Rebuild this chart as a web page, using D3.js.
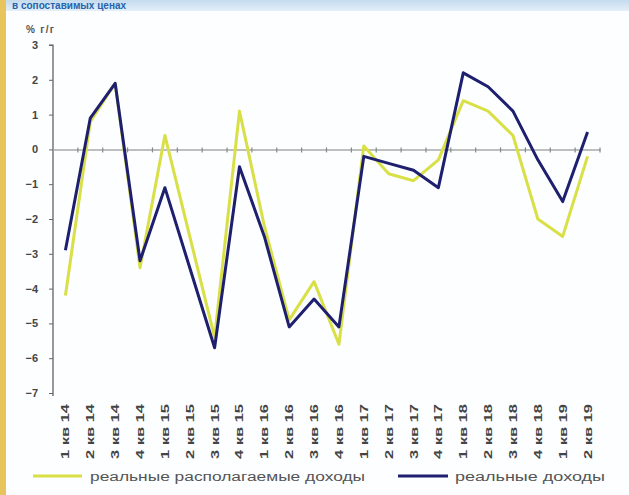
<!DOCTYPE html>
<html>
<head>
<meta charset="utf-8">
<script src="https://cdn.jsdelivr.net/npm/d3@7/dist/d3.min.js"></script>
<style>
  html, body { margin: 0; padding: 0; background: #fff; }
  svg { display: block; }
</style>
</head>
<body>
<script>
// Quarterly growth, % year over year
const categories = [
  "1 кв 14", "2 кв 14", "3 кв 14", "4 кв 14",
  "1 кв 15", "2 кв 15", "3 кв 15", "4 кв 15",
  "1 кв 16", "2 кв 16", "3 кв 16", "4 кв 16",
  "1 кв 17", "2 кв 17", "3 кв 17", "4 кв 17",
  "1 кв 18", "2 кв 18", "3 кв 18", "4 кв 18",
  "1 кв 19", "2 кв 19"
];
const disposableIncome = [
  -4.2, 0.8, 1.9, -3.4, 0.4, -2.5, -5.4, 1.1, -2.2, -4.9, -3.8, -5.6,
  0.1, -0.7, -0.9, -0.3, 1.4, 1.1, 0.4, -2.0, -2.5, -0.2
];
const realIncome = [
  -2.9, 0.9, 1.9, -3.2, -1.1, -3.4, -5.7, -0.5, -2.5, -5.1, -4.3, -5.1,
  -0.2, -0.4, -0.6, -1.1, 2.2, 1.8, 1.1, -0.3, -1.5, 0.5
];
const yTicks = [3, 2, 1, 0, -1, -2, -3, -4, -5, -6, -7];
const seriesNames = ["реальные располагаемые доходы", "реальные доходы"];
const title = "в сопоставимых ценах";
const unitLabel = "% г/г";

const W = 629, H = 495;
const svg = d3.select("body").append("svg").attr("width", W).attr("height", H);
const font = "Liberation Sans, Arial, sans-serif";

// panel background, header band and side stripe
const defs = svg.append("defs");
const hdr = defs.append("linearGradient").attr("id", "hdr").attr("x1", 0).attr("y1", 0).attr("x2", 0).attr("y2", 1);
hdr.append("stop").attr("offset", "0%").attr("stop-color", "#c4dbee");
hdr.append("stop").attr("offset", "100%").attr("stop-color", "#e4eff8");
svg.append("rect").attr("width", W).attr("height", H).attr("fill", "#fcfeff");
svg.append("rect").attr("x", 0).attr("y", 0).attr("width", W).attr("height", 11).attr("fill", "url(#hdr)");
svg.append("text").attr("x", 12).attr("y", 9)
  .attr("font-family", font).attr("font-weight", "bold")
  .attr("font-size", 10).attr("fill", "#2563ad")
  .text(title);
svg.append("rect").attr("x", 0).attr("y", 0).attr("width", 6).attr("height", H).attr("fill", "#e7c45c");

const x = d3.scaleBand().domain(categories).range([53, 600]).padding(0);
const y = d3.scaleLinear().domain([-7, 3]).range([393, 45]);

// y axis
const yAxis = svg.append("g").attr("transform", "translate(53,0)")
  .call(d3.axisLeft(y).tickValues(yTicks).tickSize(4).tickPadding(11));
yAxis.select(".domain").attr("stroke", "#555").attr("stroke-width", 1.2)
  .attr("d", `M-4,${y(3)}H0V${y(-7) + 3}`);
yAxis.selectAll(".tick line").attr("stroke", "#666");
yAxis.selectAll(".tick text").attr("font-family", font).attr("font-size", 11)
  .attr("fill", "#444").attr("font-weight", "bold");

svg.append("text").attr("x", 26).attr("y", 33).attr("font-family", font)
  .attr("font-size", 10).attr("font-weight", "bold").attr("fill", "#555")
  .attr("textLength", 28).attr("lengthAdjust", "spacing")
  .text(unitLabel);

// zero line with category ticks
const xAxis = svg.append("g").attr("transform", `translate(0,${y(0)})`)
  .call(d3.axisBottom(x).tickSize(0).tickFormat(""));
xAxis.select(".domain").attr("stroke", "#a8a8a8").attr("stroke-width", 1.5);
xAxis.selectAll(".tick").remove();
const bounds = categories.slice(1).map(c => x(c)).concat([x.range()[1]]);
svg.append("g").selectAll("line").data(bounds).join("line")
  .attr("x1", d => d).attr("x2", d => d)
  .attr("y1", y(0) - 2).attr("y2", y(0) + 3)
  .attr("stroke", "#888").attr("stroke-width", 1.2);

// category labels, rotated
svg.append("g").selectAll("text").data(categories).join("text")
  .attr("transform", d => `translate(${x(d) + x.bandwidth() / 2 + 4},404) rotate(-90)`)
  .attr("text-anchor", "end")
  .attr("font-family", font).attr("font-size", 11).attr("font-weight", "bold")
  .attr("fill", "#444")
  .attr("textLength", 55).attr("lengthAdjust", "spacingAndGlyphs")
  .text(d => d);

// lines
const line = d3.line()
  .x((d, i) => x(categories[i]) + x.bandwidth() / 2)
  .y(d => y(d));
svg.append("path").datum(disposableIncome).attr("d", line)
  .attr("fill", "none").attr("stroke", "#d9e046").attr("stroke-width", 3)
  .attr("stroke-linejoin", "round");
svg.append("path").datum(realIncome).attr("d", line)
  .attr("fill", "none").attr("stroke", "#1e1f6e").attr("stroke-width", 3)
  .attr("stroke-linejoin", "round");

// legend
const legend = [
  { name: seriesNames[0], color: "#d9e046", x1: 33, x2: 82, tx: 90, tw: 275 },
  { name: seriesNames[1], color: "#1e1f6e", x1: 398, x2: 448, tx: 455, tw: 150 }
];
const lg = svg.append("g");
legend.forEach(l => {
  lg.append("line").attr("x1", l.x1).attr("x2", l.x2).attr("y1", 476).attr("y2", 476)
    .attr("stroke", l.color).attr("stroke-width", 3);
  lg.append("text").attr("x", l.tx).attr("y", 481)
    .attr("font-family", font).attr("font-size", 12).attr("fill", "#555")
    .attr("textLength", l.tw).attr("lengthAdjust", "spacingAndGlyphs")
    .text(l.name);
});
</script>
</body>
</html>
